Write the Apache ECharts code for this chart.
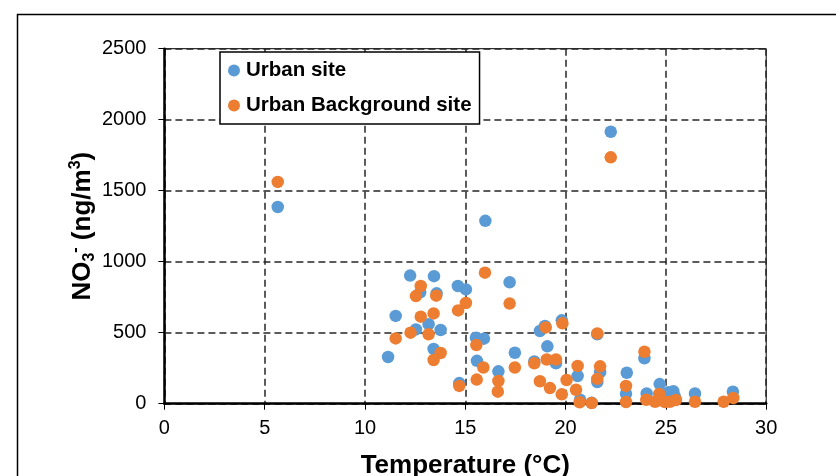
<!DOCTYPE html>
<html>
<head>
<meta charset="utf-8">
<script src="https://cdn.jsdelivr.net/npm/echarts@6/dist/echarts.min.js"></script>
<style>
  html, body { margin: 0; padding: 0; background: #fff; }
  #chart { width: 836px; height: 476px; }
</style>
</head>
<body>
<div id="chart"></div>
<script>
// temperature (°C) and NO3- (ng/m3)
const urbanTemp = [5.65, 22.25, 16.0, 12.25, 13.44, 14.63, 15.03, 17.21, 12.75, 13.57, 11.53, 12.54, 13.17, 13.77, 11.15,
  13.42, 15.53, 15.93, 17.47, 15.58, 16.65, 14.70, 18.72, 18.97, 19.81, 19.09, 18.44, 19.52, 20.60, 20.72,
  21.30, 21.58, 21.72, 21.58, 23.05, 23.01, 23.93, 24.04, 24.69, 25.12, 25.37, 24.9, 25.45, 26.45, 28.34];
const urbanNO3 = [1385, 1915, 1288, 902, 898, 829, 805, 855, 784, 777, 618, 523, 560, 519, 329,
  385, 465, 458, 359, 302, 228, 145, 512, 547, 587, 404, 298, 284, 195, 28,
  6, 489, 222, 152, 218, 70, 320, 72, 138, 80, 88, 40, 50, 72, 85];

const bgTemp = [5.65, 22.25, 15.98, 12.78, 12.54, 13.55, 15.03, 14.64, 17.21, 12.78, 13.42, 11.53, 12.27, 13.17, 13.77,
  13.42, 15.55, 15.90, 17.47, 15.57, 16.65, 16.62, 14.70, 19.01, 19.84, 21.58, 18.44, 19.06, 19.52, 18.72,
  19.22, 19.81, 20.05, 20.60, 20.52, 20.70, 21.30, 21.72, 21.58, 23.01, 23.01, 23.93, 24.02, 24.67, 24.46,
  24.7, 24.95, 25.2, 25.5, 26.45, 27.88, 28.36];
const bgNO3 = [1562, 1735, 923, 829, 758, 761, 709, 657, 705, 613, 636, 460, 500, 489, 357,
  308, 413, 255, 255, 170, 160, 85, 125, 537, 566, 495, 284, 311, 311, 158,
  110, 66, 167, 266, 98, 10, 5, 263, 175, 125, 12, 366, 28, 68, 14,
  26, 12, 14, 26, 14, 14, 40];

const seriesNames = ['Urban site', 'Urban Background site'];
const xTicks = { min: 0, max: 30, interval: 5 };
const yTicks = { min: 0, max: 2500, interval: 500 };

const zip = (xs, ys) => xs.map((x, i) => [x, ys[i]]);

const chart = echarts.init(document.getElementById('chart'));

const gridLine = { show: true, lineStyle: { color: '#262626', width: 1.5, type: [7, 4] } };

chart.setOption({
  animation: false,
  textStyle: { fontFamily: 'Liberation Sans, Arial, sans-serif' },
  graphic: [{
    type: 'rect',
    shape: { x: 17.5, y: 14.5, width: 900, height: 600 },
    style: { fill: 'none', stroke: '#000', lineWidth: 1.5 },
    silent: true
  }],
  grid: {
    left: 164.4,
    right: 69.8,
    top: 48.7,
    bottom: 72.3,
    outerBoundsMode: 'none',
    containLabel: false,
    show: true,
    borderColor: '#000',
    borderWidth: 1
  },
  legend: {
    orient: 'vertical',
    left: 220,
    top: 52,
    padding: [8, 8, 8, 8],
    itemGap: 14,
    itemWidth: 12,
    itemHeight: 12,
    icon: 'circle',
    backgroundColor: '#fff',
    borderColor: '#000',
    borderWidth: 1.5,
    textStyle: { fontSize: 20.5, fontWeight: 'bold', color: '#000', lineHeight: 20, padding: [0, 0, 0, 1] },
    data: seriesNames
  },
  xAxis: {
    type: 'value',
    min: xTicks.min,
    max: xTicks.max,
    interval: xTicks.interval,
    name: 'Temperature (°C)',
    nameLocation: 'middle',
    nameGap: 49,
    nameMoveOverlap: false,
    nameTextStyle: { fontSize: 26, fontWeight: 'bold', color: '#000' },
    axisLine: { show: true, onZero: false, lineStyle: { color: '#000', width: 2.5 } },
    axisTick: { show: true, length: 6, lineStyle: { color: '#000', width: 1 } },
    axisLabel: { fontSize: 20, color: '#000', margin: 15 },
    splitLine: gridLine
  },
  yAxis: {
    type: 'value',
    min: yTicks.min,
    max: yTicks.max,
    interval: yTicks.interval,
    name: 'NO{sub|3}{sup|-} (ng/m{sup|3})',
    nameLocation: 'middle',
    nameGap: 67,
    nameMoveOverlap: false,
    nameTextStyle: {
      fontSize: 26, fontWeight: 'bold', color: '#000', lineHeight: 30,
      rich: {
        sub: { fontSize: 16, fontWeight: 'bold', color: '#000', lineHeight: 14, verticalAlign: 'bottom' },
        sup: { fontSize: 16, fontWeight: 'bold', color: '#000', lineHeight: 16, verticalAlign: 'top' }
      }
    },
    axisLine: { show: true, lineStyle: { color: '#000', width: 2.5 } },
    axisTick: { show: true, length: 6, lineStyle: { color: '#000', width: 1 } },
    axisLabel: { fontSize: 20, color: '#000', margin: 18, formatter: v => String(v) },
    splitLine: gridLine
  },
  series: [
    {
      name: seriesNames[0],
      type: 'scatter',
      symbolSize: 12.5,
      itemStyle: { color: '#5B9BD5', opacity: 1 },
      data: zip(urbanTemp, urbanNO3)
    },
    {
      name: seriesNames[1],
      type: 'scatter',
      symbolSize: 12.5,
      itemStyle: { color: '#ED7D31', opacity: 1 },
      data: zip(bgTemp, bgNO3)
    }
  ]
});
</script>
</body>
</html>
